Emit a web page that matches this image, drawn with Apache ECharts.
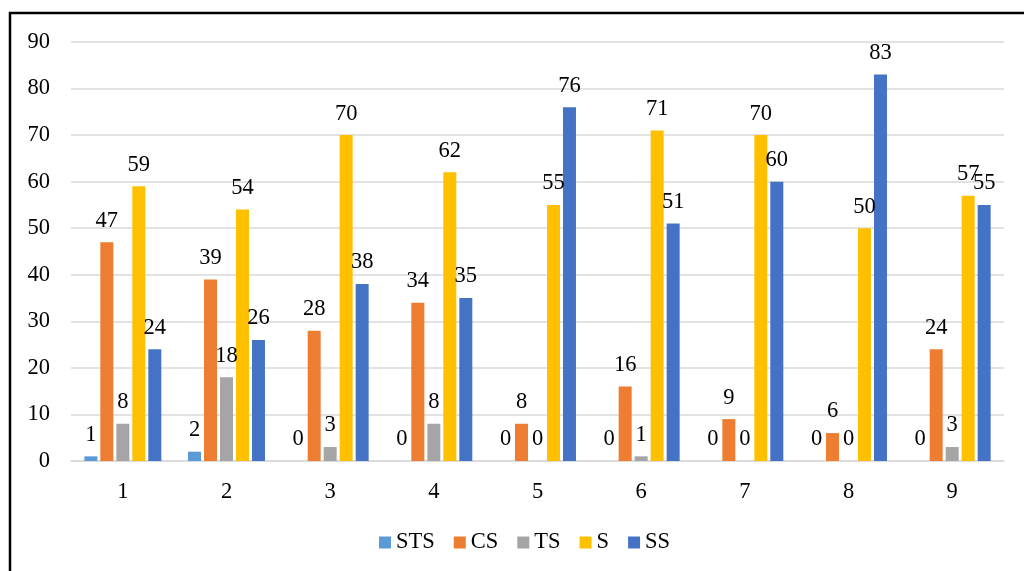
<!DOCTYPE html>
<html>
<head>
<meta charset="utf-8">
<script src="https://cdn.jsdelivr.net/npm/echarts@6/dist/echarts.min.js"></script>
<style>
html,body{margin:0;padding:0;background:#fff;}
#c{width:1024px;height:571px;}
</style>
</head>
<body>
<div id="c"></div>
<script>
var categories = ['1','2','3','4','5','6','7','8','9'];
var seriesNames = ['STS','CS','TS','S','SS'];
var STS = [1,2,0,0,0,0,0,0,0];
var CS = [47,39,28,34,8,16,9,6,24];
var TS = [8,18,3,8,0,1,0,0,3];
var S = [59,54,70,62,55,71,70,50,57];
var SS = [24,26,38,35,76,51,60,83,55];
var yTicks = [0,10,20,30,40,50,60,70,80,90];

var colors = ['#5B9BD5','#ED7D31','#A5A5A5','#FFC000','#4472C4'];
var dataSets = [STS, CS, TS, S, SS];
var font = "'Liberation Serif','Times New Roman',serif";
var fs = 22.5;

var chart = echarts.init(document.getElementById('c'));
var series = seriesNames.map(function(n, i){
  return {
    name: n,
    type: 'bar',
    data: dataSets[i],
    barWidth: 13,
    barGap: '23%',
    itemStyle: {color: colors[i]},
    label: {
      show: true,
      position: 'top',
      distance: 10,
      color: '#000',
      fontFamily: font,
      fontSize: fs
    }
  };
});

chart.setOption({
  animation: false,
  color: colors,
  textStyle: {fontFamily: font},
  grid: {left: 71, right: 20, top: 42, bottom: 110},
  legend: {
    bottom: 12,
    left: 374,
    itemWidth: 12,
    itemHeight: 12,
    itemGap: 19,
    icon: 'rect',
    textStyle: {fontFamily: font, fontSize: fs, color: '#000'},
    data: seriesNames
  },
  xAxis: {
    type: 'category',
    data: categories,
    axisLine: {lineStyle: {color: '#d9d9d9', width: 1.5}},
    axisTick: {show: false},
    axisLabel: {color: '#000', fontFamily: font, fontSize: fs, margin: 20}
  },
  yAxis: {
    type: 'value',
    min: yTicks[0],
    max: yTicks[yTicks.length-1],
    interval: 10,
    axisLine: {show: false},
    axisTick: {show: false},
    splitLine: {lineStyle: {color: '#d9d9d9', width: 1.5}},
    axisLabel: {color: '#000', fontFamily: font, fontSize: fs, margin: 21}
  },
  graphic: [{
    type: 'polyline',
    shape: {points: [[10,571],[10,13],[1024,13]]},
    style: {stroke: '#000', lineWidth: 2.5, fill: null}
  }],
  series: series
});
</script>
</body>
</html>
